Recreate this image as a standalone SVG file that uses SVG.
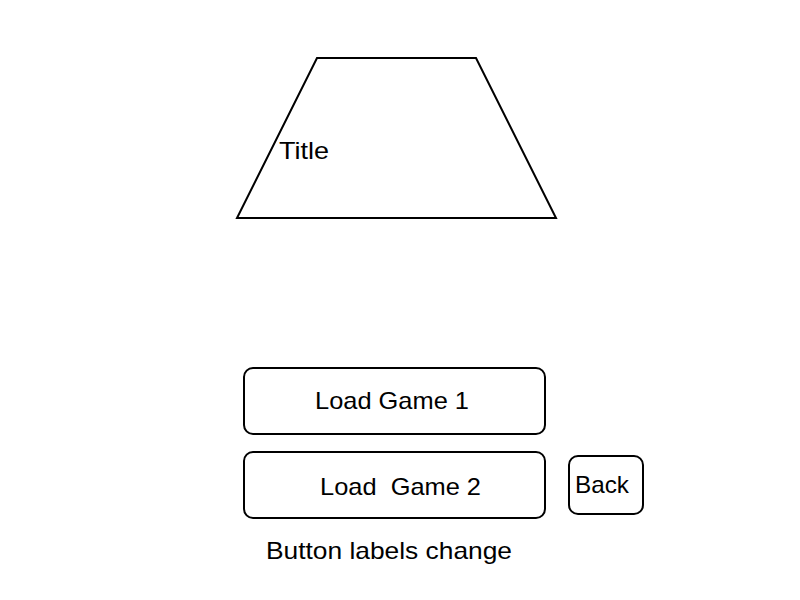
<svg xmlns="http://www.w3.org/2000/svg" width="800" height="600" viewBox="0 0 800 600">
<style>
.s{fill:#fff;stroke:#000;stroke-width:2}
.t{font-family:"Liberation Sans",Arial,sans-serif;font-size:24px;fill:#000}
</style>
<rect width="800" height="600" fill="#fff"/>
<g id="title">
<polygon class="s" points="317,58 476,58 556,218 237,218"/>
<text class="t" x="279" y="159" textLength="50" lengthAdjust="spacingAndGlyphs">Title</text>
</g>
<g id="load1">
<rect class="s" x="244" y="368" width="301" height="66" rx="9"/>
<text class="t" x="315" y="409" textLength="154" lengthAdjust="spacingAndGlyphs">Load Game 1</text>
</g>
<g id="load2">
<rect class="s" x="244" y="452" width="301" height="66" rx="9"/>
<text class="t" x="320" y="495" textLength="161" lengthAdjust="spacingAndGlyphs" xml:space="preserve">Load  Game 2</text>
</g>
<g id="back">
<rect class="s" x="569" y="456" width="74" height="58" rx="9"/>
<text class="t" x="575" y="493" textLength="54" lengthAdjust="spacingAndGlyphs">Back</text>
</g>
<g id="note">
<text class="t" x="266" y="559" textLength="246" lengthAdjust="spacingAndGlyphs">Button labels change</text>
</g>
<g id="connectors"/>
</svg>
